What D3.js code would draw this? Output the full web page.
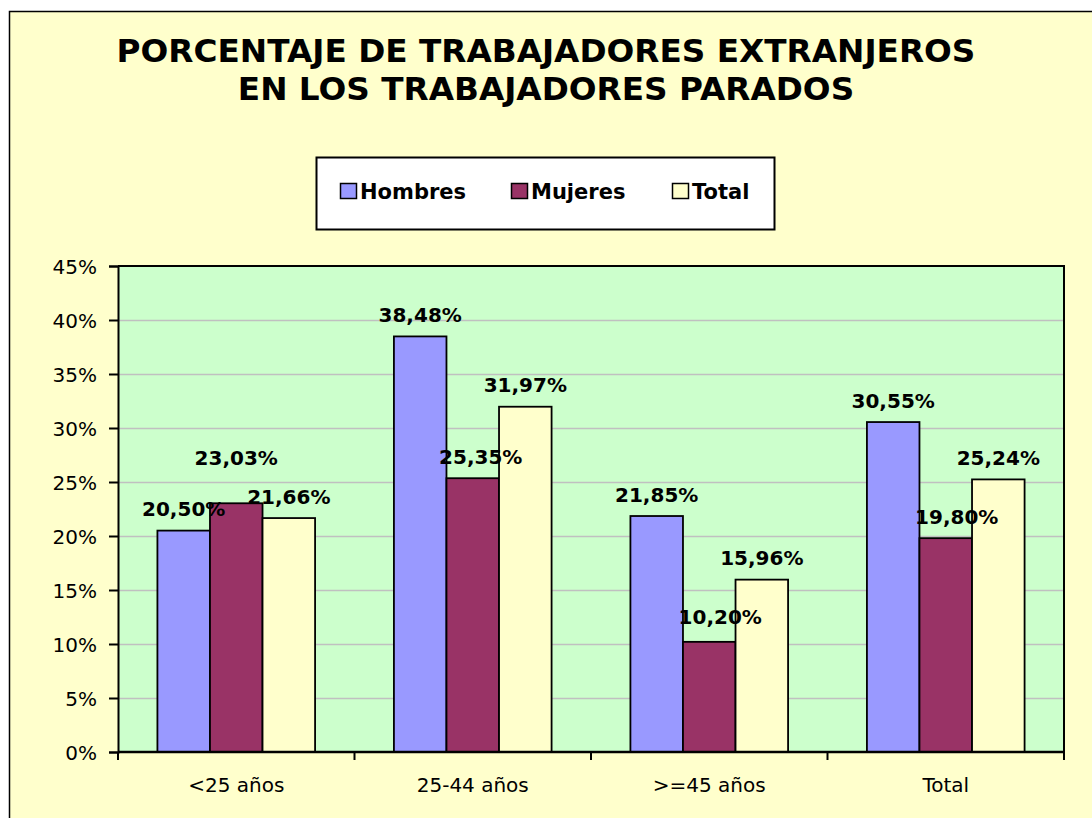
<!DOCTYPE html>
<html>
<head>
<meta charset="utf-8">
<script src="https://cdn.jsdelivr.net/npm/d3@7"></script>
<style>
  html, body { margin: 0; padding: 0; background: #ffffff; }
  svg { display: block; }
  text { font-family: "DejaVu Sans", Verdana, sans-serif; }
</style>
</head>
<body>
<script>
// ---- data ----
const categories = ["<25 años", "25-44 años", ">=45 años", "Total"];
const seriesNames = ["Hombres", "Mujeres", "Total"];
const hombres = [20.50, 38.48, 21.85, 30.55];
const mujeres = [23.03, 25.35, 10.20, 19.80];
const total   = [21.66, 31.97, 15.96, 25.24];
const yTicks  = [0, 5, 10, 15, 20, 25, 30, 35, 40, 45];
const titleLines = ["PORCENTAJE DE TRABAJADORES EXTRANJEROS", "EN LOS TRABAJADORES PARADOS"];
// manual label shifts (dx, dy) as in the original (moved data labels), per series/category
const labelShift = [
  [[0,0],[0,0],[0,0],[0,0]],
  [[0,-24],[8,0],[11,-3],[11,0]],
  [[0,0],[0,0],[0,0],[0,0]]
];

const colors = ["#9999FF", "#993366", "#FFFFCC"];
const values = [hombres, mujeres, total];

const W = 1092, H = 818;
const svg = d3.select("body").append("svg").attr("width", W).attr("height", H);

// chart area background with frame
svg.append("rect").attr("x", 9.5).attr("y", 11.5).attr("width", 1100).attr("height", 830)
  .attr("fill", "#FFFFCC").attr("stroke", "#000").attr("stroke-width", 1.5);

// title
const titleG = svg.append("g");
const tTmp = titleG.append("text").attr("font-weight", "bold").attr("font-size", 30).text(titleLines[0]);
const w30 = tTmp.node().getComputedTextLength();
tTmp.remove();
const titleSize = 30 * 859 / w30;
titleG.selectAll("text").data(titleLines).join("text")
  .attr("x", 546).attr("y", (d, i) => 62 + i * 38)
  .attr("text-anchor", "middle").attr("font-weight", "bold")
  .attr("font-size", titleSize).attr("fill", "#000").text(d => d);

// plot area
const plot = { left: 118, right: 1064, top: 266, bottom: 752 };
const x0 = d3.scaleBand().domain(categories).range([plot.left, plot.right])
  .paddingInner(1/3).paddingOuter(1/6);
const x1 = d3.scaleBand().domain(seriesNames).range([0, x0.bandwidth()]);
const y = d3.scaleLinear().domain([0, 45]).range([plot.bottom, plot.top]);

svg.append("rect").attr("x", plot.left).attr("y", plot.top)
  .attr("width", plot.right - plot.left).attr("height", plot.bottom - plot.top)
  .attr("fill", "#CCFFCC");

// gridlines
svg.append("g").selectAll("line").data(yTicks.filter(t => t > 0 && t < 45)).join("line")
  .attr("x1", plot.left).attr("x2", plot.right)
  .attr("y1", d => Math.round(y(d)) + 0.5).attr("y2", d => Math.round(y(d)) + 0.5)
  .attr("stroke", "#C0C0C0").attr("stroke-width", 1.6);

// plot border (top/right)
svg.append("path")
  .attr("d", `M${plot.left},${plot.top}H${plot.right}V${plot.bottom}`)
  .attr("fill", "none").attr("stroke", "#000").attr("stroke-width", 2);

// bars
const groups = svg.append("g").selectAll("g").data(categories).join("g")
  .attr("transform", d => `translate(${x0(d)},0)`);
groups.selectAll("rect").data((c, ci) => seriesNames.map((s, si) => ({ s, si, v: values[si][ci] })))
  .join("rect")
  .attr("x", d => x1(d.s)).attr("width", x1.bandwidth())
  .attr("y", d => y(d.v)).attr("height", d => plot.bottom - y(d.v))
  .attr("fill", d => colors[d.si]).attr("stroke", "#000").attr("stroke-width", 1.8);

// axes
const yAxis = d3.axisLeft(y).tickValues(yTicks).tickFormat(d => d + "%").tickSize(9).tickPadding(12);
const ya = svg.append("g").attr("transform", `translate(${plot.left},0)`).call(yAxis);
ya.select(".domain").attr("stroke", "#000").attr("stroke-width", 2);
ya.selectAll(".tick line").attr("stroke", "#000").attr("stroke-width", 2);
ya.selectAll("text").attr("font-size", 20).attr("font-family", "DejaVu Sans, Verdana, sans-serif")
  .attr("fill", "#000").attr("dy", "0.36em");

// x axis with ticks at category boundaries
const boundaries = categories.map(c => x0(c) - x0.step() * x0.paddingInner() / 2)
  .concat([plot.right]);
const xa = svg.append("g");
xa.append("line").attr("x1", plot.left).attr("x2", plot.right)
  .attr("y1", plot.bottom).attr("y2", plot.bottom).attr("stroke", "#000").attr("stroke-width", 2.5);
xa.selectAll("line.tick").data(boundaries).join("line").attr("class", "tick")
  .attr("x1", d => d).attr("x2", d => d).attr("y1", plot.bottom).attr("y2", plot.bottom + 8)
  .attr("stroke", "#000").attr("stroke-width", 2);
xa.selectAll("text").data(categories).join("text")
  .attr("x", d => x0(d) + x0.bandwidth() / 2).attr("y", 792)
  .attr("text-anchor", "middle").attr("font-size", 20).attr("fill", "#000").text(d => d);

// data labels
const fmt = v => v.toFixed(2).replace(".", ",") + "%";
groups.selectAll("text").data((c, ci) => seriesNames.map((s, si) => ({ s, si, ci, v: values[si][ci] })))
  .join("text")
  .attr("x", d => x1(d.s) + x1.bandwidth() / 2 + labelShift[d.si][d.ci][0])
  .attr("y", d => y(d.v) - 14.5 + labelShift[d.si][d.ci][1])
  .attr("text-anchor", "middle").attr("font-weight", "bold").attr("font-size", 20)
  .attr("fill", "#000").text(d => fmt(d.v));

// legend
const lg = svg.append("g");
lg.append("rect").attr("x", 316.5).attr("y", 157.5).attr("width", 458).attr("height", 72)
  .attr("fill", "#fff").attr("stroke", "#000").attr("stroke-width", 2);
const legendX = [340, 511, 672];
const items = lg.selectAll("g").data(seriesNames).join("g")
  .attr("transform", (d, i) => `translate(${legendX[i]},183)`);
items.append("rect").attr("x", 0.5).attr("y", 0.5).attr("width", 16).attr("height", 15)
  .attr("fill", (d, i) => colors[i]).attr("stroke", "#000").attr("stroke-width", 1.5);
items.append("text").attr("x", 20).attr("y", 16).attr("font-weight", "bold").attr("font-size", 21)
  .attr("fill", "#000").text(d => d);
</script>
</body>
</html>
